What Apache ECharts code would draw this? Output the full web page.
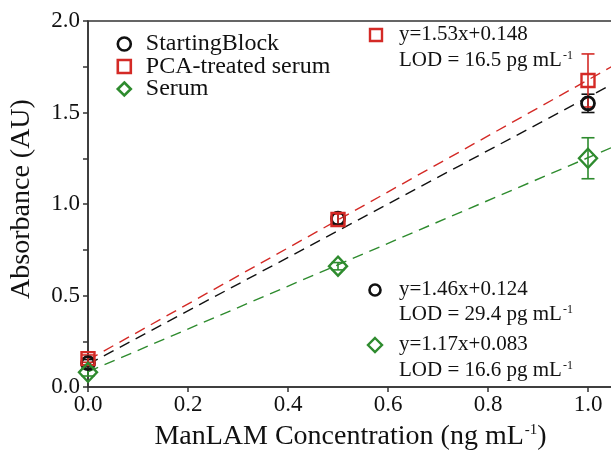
<!DOCTYPE html>
<html><head><meta charset="utf-8">
<script src="https://cdn.jsdelivr.net/npm/echarts@6/dist/echarts.min.js"></script>
<style>html,body{margin:0;padding:0;background:#fff}#c{width:611px;height:453px}</style>
</head><body><div id="c"></div>
<script>
const concentrations = [0, 0.5, 1.0];
const startingBlock = [0.13, 0.92, 1.55];
const startingBlockErr = [0.02, 0.03, 0.05];
const pcaSerum = [0.155, 0.915, 1.675];
const pcaSerumErr = [0.02, 0.03, 0.145];
const serum = [0.08, 0.66, 1.25];
const serumErr = [0.02, 0.02, 0.112];
const fitX = [0, 1.05];
const fitStartingBlock = [0.124, 1.657];
const fitPca = [0.148, 1.7545];
const fitSerum = [0.083, 1.3115];
const xTicks = [0.0, 0.2, 0.4, 0.6, 0.8, 1.0];
const yTicks = [0.0, 0.5, 1.0, 1.5, 2.0];

const FONT = '"Liberation Serif", "DejaVu Serif", serif';
const BLACK = '#111111', RED = '#d42a26', GREEN = '#2e8b2e';

function pts(xs, ys){ return xs.map((x,i)=>[x, ys[i]]); }
function errData(xs, ys, es){ return xs.map((x,i)=>[x, ys[i]-es[i], ys[i]+es[i]]); }
function errSeries(data, color){
  return {
    type: 'custom', silent: true, z: 3,
    renderItem: function(params, api){
      const x = api.value(0);
      const lo = api.coord([x, api.value(1)]);
      const hi = api.coord([x, api.value(2)]);
      const w = 6.5;
      const st = {stroke: color, lineWidth: 1.6};
      return {type:'group', children:[
        {type:'line', shape:{x1:lo[0],y1:lo[1],x2:hi[0],y2:hi[1]}, style:st},
        {type:'line', shape:{x1:lo[0]-w,y1:lo[1],x2:lo[0]+w,y2:lo[1]}, style:st},
        {type:'line', shape:{x1:hi[0]-w,y1:hi[1],x2:hi[0]+w,y2:hi[1]}, style:st}
      ]};
    },
    encode: {x:0, y:[1,2]},
    data: data
  };
}
function fitSeries(ys, color){
  return {type:'line', data: pts(fitX, ys), symbol:'none', silent:true, z:1,
    lineStyle:{color:color, width:1.4, type:[11,7]}};
}

const chart = echarts.init(document.getElementById('c'));
const sup = {fontFamily: FONT, fontSize: 12, verticalAlign:'top', padding:[0,0,9,1], fill:'#111'};
const ann = {fontFamily: FONT, fontSize: 21, fill:'#111'};
chart.setOption({
  animation: false,
  backgroundColor: '#fff',
  grid: {left: 88, top: 21, width: 525, height: 366, outerBoundsMode: 'none', containLabel: false,
    show: true, borderColor: '#333', borderWidth: 1.5},
  legend: {
    orient: 'vertical', left: 116.5, top: 32, itemGap: -1.5, itemWidth: 13, itemHeight: 13, padding: 0,
    data: ['StartingBlock', 'PCA-treated serum', 'Serum'],
    itemStyle: {borderWidth: 2.6, opacity: 1},
    textStyle: {fontFamily: FONT, fontSize: 24, lineHeight: 22, color:'#111', padding:[0,0,0,10]}
  },
  xAxis: {
    type: 'value', min: 0, max: 1.05, interval: 0.2,
    name: '{a|ManLAM Concentration (ng mL}{s|-1}{a|)}',
    nameLocation: 'middle', nameGap: 36,
    nameTextStyle: {rich:{a:{fontFamily: FONT, fontSize: 28, color:'#111'}, s:{fontFamily: FONT, fontSize: 15, color:'#111', verticalAlign:'top', padding:[0,0,12,1]}}},
    axisLine: {lineStyle: {color:'#333', width:1.5}},
    axisTick: {inside: false, length: 5, lineStyle:{color:'#333', width:1.5}},
    axisLabel: {showMaxLabel: false, fontFamily: FONT, fontSize: 23, color:'#111', margin: 6,
      formatter: v => xTicks.some(t => Math.abs(t - v) < 1e-6) ? v.toFixed(1) : ''},
    splitLine: {show: false}
  },
  yAxis: {
    type: 'value', min: 0, max: 2.0, interval: 0.5,
    name: 'Absorbance (AU)', nameLocation: 'middle', nameGap: 52,
    nameTextStyle: {fontFamily: FONT, fontSize: 28, color:'#111', padding:[0,0,0,10]},
    axisLine: {show: true, lineStyle: {color:'#333', width:1.5}},
    axisTick: {show: true, inside: false, length: 5, lineStyle:{color:'#333', width:1.5}},
    minorTick: {show: true, splitNumber: 2, length: 5, lineStyle:{color:'#333', width:1.5}},
    axisLabel: {fontFamily: FONT, fontSize: 23, color:'#111', margin: 8,
      formatter: v => yTicks.some(t => Math.abs(t - v) < 1e-6) ? v.toFixed(1) : ''},
    splitLine: {show: false}
  },
  series: [
    fitSeries(fitStartingBlock, BLACK),
    fitSeries(fitPca, RED),
    fitSeries(fitSerum, GREEN),
    errSeries(errData(concentrations, startingBlock, startingBlockErr), BLACK),
    errSeries(errData(concentrations, pcaSerum, pcaSerumErr), RED),
    errSeries(errData(concentrations, serum, serumErr), GREEN),
    {name:'StartingBlock', type:'scatter', data: pts(concentrations, startingBlock), symbol:'circle', symbolSize: 13, z:4,
      itemStyle:{color:'rgba(0,0,0,0)', borderColor: BLACK, borderWidth: 2.8, opacity: 1}},
    {name:'PCA-treated serum', type:'scatter', data: pts(concentrations, pcaSerum), symbol:'rect', symbolSize: 13, z:4,
      itemStyle:{color:'rgba(0,0,0,0)', borderColor: RED, borderWidth: 2.4, opacity: 1}},
    {name:'Serum', type:'scatter', data: pts(concentrations, serum), symbol:'diamond', symbolSize: [18,19], z:4,
      itemStyle:{color:'rgba(0,0,0,0)', borderColor: GREEN, borderWidth: 2.4, opacity: 1}}
  ],
  graphic: [
    {type:'rect', shape:{x:370, y:29, width:12, height:12}, style:{fill:'none', stroke:RED, lineWidth:2.4}},
    {type:'text', left: 399, top: 24, style:{rich:{a:ann}, text:'{a|y=1.53x+0.148}'}},
    {type:'text', left: 399, top: 50, style:{rich:{a:ann, s:sup}, text:'{a|LOD = 16.5 pg mL}{s|-1}'}},
    {type:'circle', shape:{cx:375, cy:290, r:5.5}, style:{fill:'none', stroke:BLACK, lineWidth:2.6}},
    {type:'text', left: 399, top: 279, style:{rich:{a:ann}, text:'{a|y=1.46x+0.124}'}},
    {type:'text', left: 399, top: 304, style:{rich:{a:ann, s:sup}, text:'{a|LOD = 29.4 pg mL}{s|-1}'}},
    {type:'polygon', shape:{points:[[375,338],[382,345],[375,352],[368,345]]}, style:{fill:'none', stroke:GREEN, lineWidth:2.4}},
    {type:'text', left: 399, top: 334, style:{rich:{a:ann}, text:'{a|y=1.17x+0.083}'}},
    {type:'text', left: 399, top: 360, style:{rich:{a:ann, s:sup}, text:'{a|LOD = 16.6 pg mL}{s|-1}'}}
  ]
});
</script>
</body></html>
